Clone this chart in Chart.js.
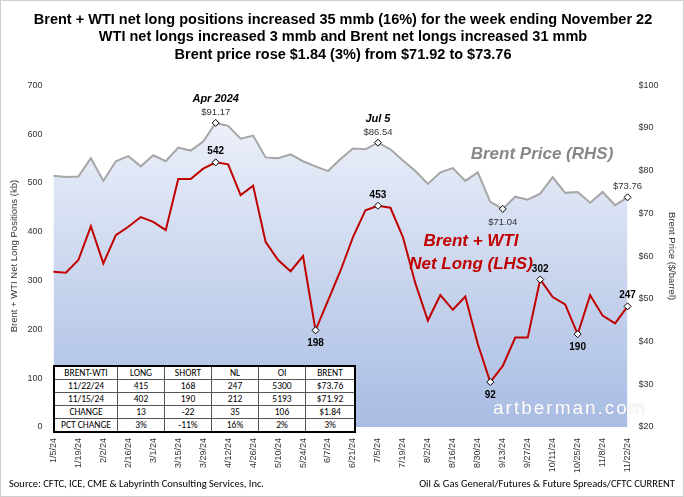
<!DOCTYPE html>
<html>
<head>
<meta charset="utf-8">
<script src="https://cdn.jsdelivr.net/npm/chart.js@4.4.0/dist/chart.umd.min.js"></script>
<style>
  body { margin: 0; background: #fff; font-family: Calibri, "Liberation Sans", Arial, sans-serif; }
  #wrap { position: relative; width: 684px; height: 497px; box-sizing: border-box; border: 1px solid #cfcfcf; }
  #c { position: absolute; left: 0; top: 0; }
  table { position: absolute; left: 52px; top: 364px; border-collapse: collapse; font-size: 9.5px; background: #fff; border: 2px solid #000; }
  td { border: 1px solid #555; text-align: center; padding: 0 2px; height: 12px; line-height: 11px; }
  .foot { position: absolute; bottom: 6px; font-size: 10.5px; color: #000; }
  #mark { position: absolute; left: 492px; top: 396px; font-size: 19px; color: #fff; letter-spacing: 2px; font-family: "Liberation Sans", Arial, sans-serif; text-shadow: 0 0 1px #aab; }
</style>
</head>
<body>
<div id="wrap">
<canvas id="c" width="684" height="497"></canvas>
<div id="mark">artberman.com</div>
<table>
  <tr><td style="width:58px">BRENT-WTI</td><td style="width:42px">LONG</td><td style="width:42px">SHORT</td><td style="width:42px">NL</td><td style="width:42px">OI</td><td style="width:44px">BRENT</td></tr>
  <tr><td>11/22/24</td><td>415</td><td>168</td><td>247</td><td>5300</td><td>$73.76</td></tr>
  <tr><td>11/15/24</td><td>402</td><td>190</td><td>212</td><td>5193</td><td>$71.92</td></tr>
  <tr><td>CHANGE</td><td>13</td><td>-22</td><td>35</td><td>106</td><td>$1.84</td></tr>
  <tr><td>PCT CHANGE</td><td>3%</td><td>-11%</td><td>16%</td><td>2%</td><td>3%</td></tr>
</table>
<div class="foot" style="left:8px">Source: CFTC, ICE, CME &amp; Labyrinth Consulting Services, Inc.</div>
<div class="foot" style="right:8px">Oil &amp; Gas General/Futures &amp; Future Spreads/CFTC CURRENT</div>
</div>
<script>
const weeks = ['1/5/24','1/12/24','1/19/24','1/26/24','2/2/24','2/9/24','2/16/24','2/23/24','3/1/24','3/8/24',
  '3/15/24','3/22/24','3/29/24','4/5/24','4/12/24','4/19/24','4/26/24','5/3/24','5/10/24','5/17/24',
  '5/24/24','5/31/24','6/7/24','6/14/24','6/21/24','6/28/24','7/5/24','7/12/24','7/19/24','7/26/24',
  '8/2/24','8/9/24','8/16/24','8/23/24','8/30/24','9/6/24','9/13/24','9/20/24','9/27/24','10/4/24',
  '10/11/24','10/18/24','10/25/24','11/1/24','11/8/24','11/15/24','11/22/24'];
const netLong = [318,316,342,411,335,393,410,430,420,403,508,508,529,542,538,475,494,379,342,319,
  350,198,259,320,389,444,453,449,389,294,218,270,240,267,170,92,125,183,183,302,
  266,251,190,270,228,212,247];
const brent = [78.8,78.5,78.6,82.9,77.6,82.2,83.4,81.0,83.6,82.2,85.4,84.7,86.8,91.17,90.5,87.5,88.2,83.1,82.9,83.8,
  82.2,81.0,79.9,82.7,85.2,85.0,86.54,85.0,82.4,79.9,76.9,79.6,80.6,77.6,79.6,72.7,71.04,73.9,73.2,74.6,
  78.5,74.8,75.0,72.5,75.0,71.92,73.76];
const nlLabels = {13:'542',21:'198',26:'453',35:'92',39:'302',42:'190',46:'247'};
const brentLabels = {13:'$91.17',26:'$86.54',36:'$71.04',46:'$73.76'};

const markers = (lab) => weeks.map((_, i) => lab[i] ? 3.5 : 0);

const labelPlugin = {
  id: 'labels',
  afterDatasetsDraw(chart) {
    const c = chart.ctx;
    c.save();
    c.textAlign = 'center';
    const red = chart.getDatasetMeta(1).data;
    const gray = chart.getDatasetMeta(0).data;
    c.font = 'bold 10px "Liberation Sans", Arial';
    c.fillStyle = '#000';
    for (const i in nlLabels) {
      const p = red[i];
      const below = ['198','92','190'].includes(nlLabels[i]);
      c.fillText(nlLabels[i], p.x, below ? p.y + 16 : p.y - 8);
    }
    c.font = '9.5px "Liberation Sans", Arial';
    c.fillStyle = '#333';
    for (const i in brentLabels) {
      const p = gray[i];
      const below = i == 36;
      c.fillText(brentLabels[i], p.x, below ? p.y + 16 : p.y - 8);
    }
    c.font = 'bold italic 11px "Liberation Sans", Arial';
    c.fillStyle = '#000';
    c.fillText('Apr 2024', gray[13].x, gray[13].y - 21);
    c.fillText('Jul 5', gray[26].x, gray[26].y - 21);
    c.font = 'bold italic 17px "Liberation Sans", Arial';
    c.fillStyle = '#888';
    c.fillText('Brent Price (RHS)', 541, 158);
    c.fillStyle = '#c00000';
    c.fillText('Brent + WTI', 470, 245);
    c.fillText('Net Long (LHS)', 470, 268);
    c.restore();
  }
};

const ctx = document.getElementById('c').getContext('2d');
new Chart(ctx, {
  type: 'line',
  data: {
    labels: weeks,
    datasets: [{
      label: 'Brent',
      data: brent,
      yAxisID: 'y2',
      order: 2,
      borderColor: '#a6a6a6',
      borderWidth: 2,
      tension: 0,
      fill: 'start',
      backgroundColor: (context) => {
        const a = context.chart.chartArea;
        if (!a) return '#dde5f4';
        const g = context.chart.ctx.createLinearGradient(0, a.top, 0, a.bottom);
        g.addColorStop(0, '#f4f6fc');
        g.addColorStop(1, '#a8bce3');
        return g;
      },
      pointRadius: markers(brentLabels),
      pointStyle: 'rectRot',
      pointBackgroundColor: '#fff',
      pointBorderColor: '#000',
      pointBorderWidth: 1
    }, {
      label: 'Net Long',
      data: netLong,
      yAxisID: 'y',
      order: 1,
      borderColor: '#c00000',
      borderWidth: 2,
      tension: 0,
      fill: false,
      pointRadius: markers(nlLabels),
      pointStyle: 'rectRot',
      pointBackgroundColor: '#fff',
      pointBorderColor: '#000',
      pointBorderWidth: 1
    }]
  },
  options: {
    responsive: false,
    animation: false,
    layout: { padding: { left: 4, right: 4, top: 2, bottom: 22 } },
    plugins: {
      legend: { display: false },
      tooltip: { enabled: false },
      title: {
        display: true,
        text: ['Brent + WTI net long positions increased 35 mmb (16%) for the week ending November 22',
               'WTI net longs increased 3 mmb and Brent net longs increased 31 mmb',
               'Brent price rose $1.84 (3%) from $71.92 to $73.76'],
        font: { size: 14.5, weight: 'bold', family: '"Liberation Sans", Arial' },
        color: '#000',
        padding: { top: 8, bottom: 22 }
      }
    },
    scales: {
      x: {
        offset: false,
        grid: { display: false },
        border: { display: false },
        ticks: {
          autoSkip: false, maxRotation: 90, minRotation: 90,
          font: { size: 9, family: '"Liberation Sans", Arial' }, color: '#333',
          callback: (v, i) => i % 2 === 0 ? weeks[i] : ''
        }
      },
      y: {
        min: 0, max: 700,
        grid: { display: false },
        border: { display: false },
        ticks: { stepSize: 100, font: { size: 9, family: '"Liberation Sans", Arial' }, color: '#333' },
        title: { display: true, text: 'Brent + WTI Net Long Positions (kb)', font: { size: 9.5, family: '"Liberation Sans", Arial' }, color: '#333' }
      },
      y2: {
        position: 'right',
        min: 20, max: 100,
        grid: { display: false },
        border: { display: false },
        ticks: { stepSize: 10, callback: v => '$' + v, font: { size: 9, family: '"Liberation Sans", Arial' }, color: '#333' },
        title: { display: true, text: 'Brent Price ($/barrel)', font: { size: 9.5, family: '"Liberation Sans", Arial' }, color: '#333' }
      }
    }
  },
  plugins: [labelPlugin]
});
</script>
</body>
</html>
